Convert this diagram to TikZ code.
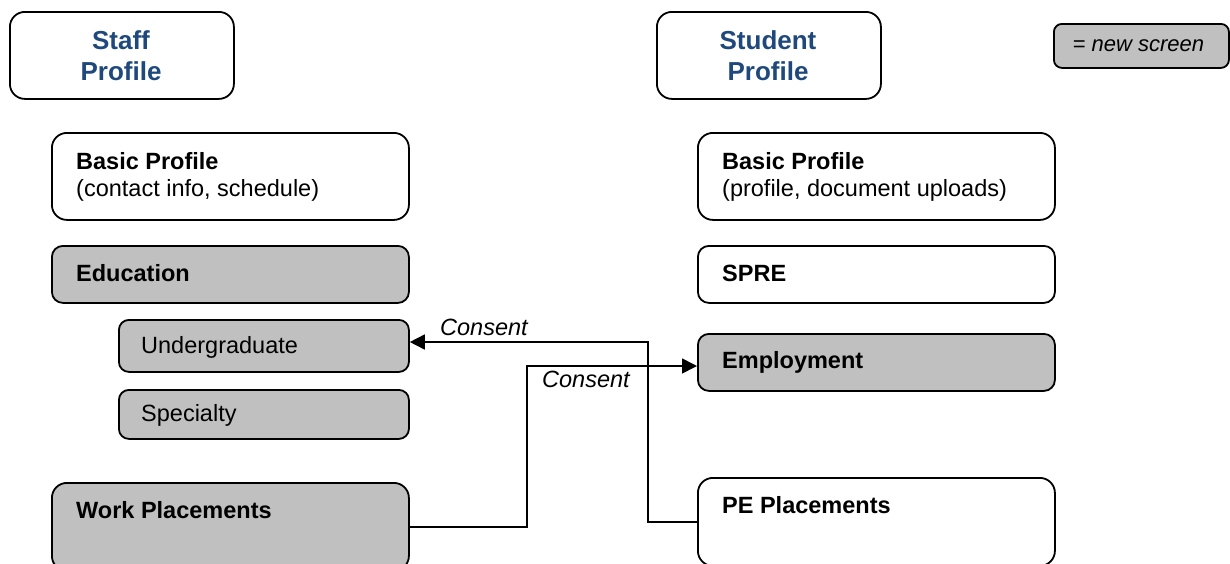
\documentclass[tikz,border=0pt]{standalone}
\usepackage{fontspec}
\setmainfont{Liberation Sans}
\usetikzlibrary{arrows.meta}
\definecolor{titleblue}{RGB}{31,73,125}
\definecolor{screengray}{RGB}{192,192,192}
\begin{document}
\begin{tikzpicture}[x=1pt,y=-1pt,
  box/.style={draw=black,line width=1.8pt,rectangle,anchor=north west,inner sep=0pt},
  plain/.style={box,fill=white},
  screen/.style={box,fill=screengray},
  title/.style={font=\fontsize{26}{31}\selectfont\bfseries,text=titleblue,align=center,inner sep=0pt},
  head/.style={font=\fontsize{23.5}{27}\selectfont\bfseries,anchor=base west,inner sep=0pt},
  sub/.style={font=\fontsize{23.5}{27}\selectfont,anchor=base west,inner sep=0pt},
  note/.style={font=\fontsize{23.5}{27}\selectfont\itshape,anchor=base west,inner sep=0pt},
  conn/.style={line width=1.6pt},
  arrowconn/.style={conn,-{Triangle[length=15pt,width=15pt]}}
]
\useasboundingbox (0,0) rectangle (1230,563);
\clip (0,0) rectangle (1230,563);

% column headers
\node[plain,minimum width=224,minimum height=87,rounded corners=15] (staff) at (9,11) {};
\node[title] (stafft) at (121,56) {Staff\\Profile};
\node[plain,minimum width=224,minimum height=87,rounded corners=15] (student) at (656,11) {};
\node[title] (studentt) at (768,56) {Student\\Profile};

% legend
\node[screen,minimum width=175,minimum height=44,rounded corners=8] (legend) at (1053,23) {};
\node[font=\fontsize{22}{26}\selectfont\itshape,inner sep=0pt] (legendt) at ([xshift=-3pt]legend.center) {= new screen};

% staff side
\node[plain,minimum width=357,minimum height=87,rounded corners=15] (sbp) at (51,132) {};
\node[head] (sbph) at (76,169) {Basic Profile};
\node[sub] (sbps) at (76,196) {(contact info, schedule)};

\node[screen,minimum width=357,minimum height=57,rounded corners=11] (edu) at (51,245) {};
\node[head] (edut) at (76,281) {Education};

\node[screen,minimum width=290,minimum height=52,rounded corners=10] (ug) at (118,319) {};
\node[sub] (ugt) at (141,353) {Undergraduate};

\node[screen,minimum width=290,minimum height=49,rounded corners=10] (spec) at (118,389) {};
\node[sub] (spect) at (141,421) {Specialty};

\node[screen,minimum width=357,minimum height=88,rounded corners=15] (wp) at (51,482) {};
\node[head] (wpt) at (76,518) {Work Placements};

% student side
\node[plain,minimum width=357,minimum height=87,rounded corners=15] (tbp) at (697,132) {};
\node[head] (tbph) at (722,169) {Basic Profile};
\node[sub] (tbps) at (722,196) {(profile, document uploads)};

\node[plain,minimum width=357,minimum height=57,rounded corners=11] (spre) at (697,245) {};
\node[head] (spret) at (722,281) {SPRE};

\node[screen,minimum width=357,minimum height=57,rounded corners=11] (emp) at (697,333) {};
\node[head] (empt) at (722,368) {Employment};

\node[plain,minimum width=357,minimum height=88,rounded corners=15] (pe) at (697,477) {};
\node[head] (pet) at (722,513) {PE Placements};

% consent links
\coordinate (bendA) at (648,342);
\coordinate (bendB) at (527,366);
\draw[arrowconn] (pe.west) -| (bendA) -- (ug.east |- bendA);
\draw[arrowconn] (wp.east) -| (bendB) -- (emp.west |- bendB);
\node[note] (consentA) at (440,335) {Consent};
\node[note] (consentB) at (542,387) {Consent};
\end{tikzpicture}
\end{document}
